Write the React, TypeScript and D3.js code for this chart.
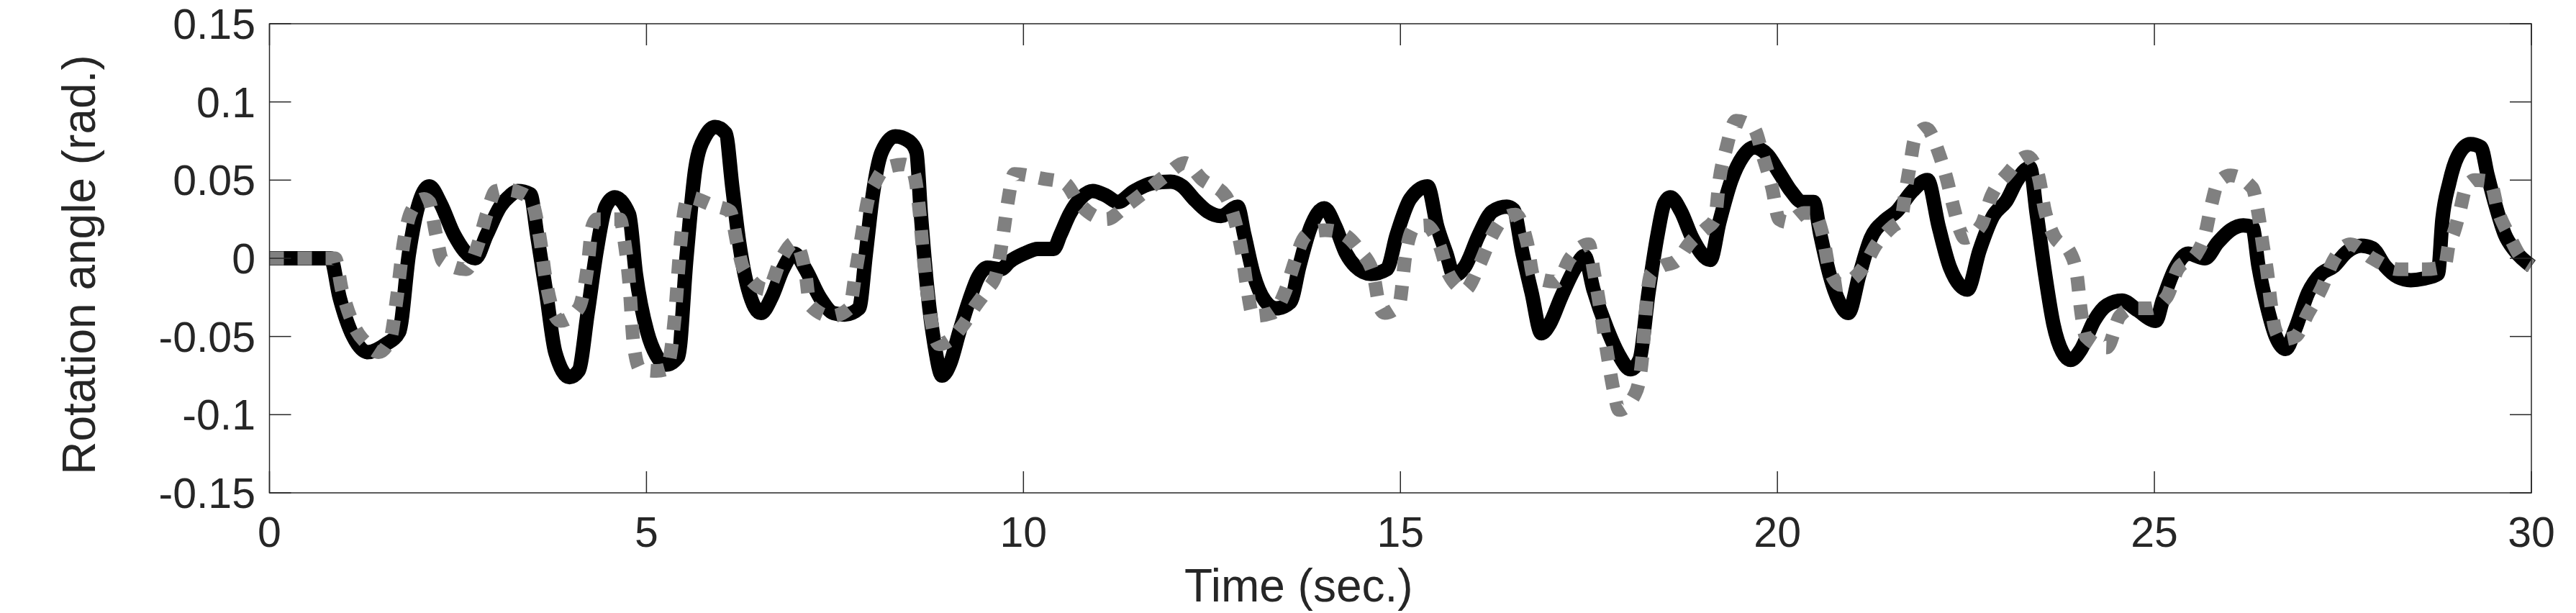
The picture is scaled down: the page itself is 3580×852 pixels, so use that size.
import React from 'react';
import * as d3 from 'd3';

// measured response (solid black)
const blackTime = [
  0, 0.81, 0.93, 1.11, 1.3, 1.54, 1.72, 1.85, 1.97, 2.12, 2.27, 2.45, 2.73, 2.88, 3.06, 3.19, 3.29, 3.46,
  3.55, 3.67, 3.79, 3.98, 4.1, 4.22, 4.34, 4.46, 4.58, 4.77, 4.86, 5.01, 5.13, 5.26, 5.42, 5.53, 5.65,
  5.78, 5.91, 6.05, 6.14, 6.23, 6.35, 6.52, 6.66, 6.81, 6.96, 7.11, 7.3, 7.48, 7.63, 7.82, 7.91, 8.0,
  8.12, 8.3, 8.48, 8.58, 8.64, 8.73, 8.82, 8.92, 9.03, 9.15, 9.28, 9.4, 9.52, 9.7, 9.82, 10.01, 10.19,
  10.4, 10.49, 10.61, 10.77, 10.92, 11.1, 11.25, 11.47, 11.71, 11.95, 12.11, 12.26, 12.44, 12.62, 12.84,
  12.93, 13.05, 13.2, 13.35, 13.54, 13.66, 13.81, 13.99, 14.14, 14.28, 14.4, 14.61, 14.82, 14.95, 15.13,
  15.36, 15.49, 15.61, 15.71, 15.86, 16.04, 16.22, 16.41, 16.5, 16.62, 16.74, 16.87, 16.98, 17.13, 17.32,
  17.44, 17.56, 17.74, 17.9, 18.05, 18.17, 18.29, 18.41, 18.5, 18.58, 18.72, 18.87, 19.11, 19.23, 19.39,
  19.54, 19.69, 19.87, 20.02, 20.18, 20.33, 20.48, 20.57, 20.69, 20.82, 20.94, 21.09, 21.24, 21.42, 21.58,
  21.79, 21.99, 22.14, 22.29, 22.52, 22.68, 22.86, 23.04, 23.18, 23.35, 23.44, 23.55, 23.66, 23.78, 23.89,
  24.03, 24.2, 24.37, 24.57, 24.77, 25.02, 25.11, 25.28, 25.45, 25.67, 25.84, 26.01, 26.18, 26.3, 26.38,
  26.5, 26.61, 26.74, 26.87, 27.04, 27.21, 27.38, 27.55, 27.74, 27.89, 28.06, 28.23, 28.4, 28.57, 28.76,
  28.82, 28.91, 29.02, 29.19, 29.33, 29.42, 29.53, 29.65, 29.78, 30,
];
const blackValue = [
  0, 0, -0.025, -0.05, -0.06, -0.055, -0.047, 0.003, 0.033, 0.046, 0.035, 0.015, 0, 0.015, 0.033, 0.04, 0.043, 0.041,
  0.015, -0.022, -0.06, -0.076, -0.072, -0.035, 0.005, 0.033, 0.039, 0.028, -0.01, -0.047, -0.062, -0.068, -0.063, 0, 0.058,
  0.078, 0.084, 0.08, 0.045, 0.01, -0.02, -0.035, -0.025, -0.007, 0.003, -0.007, -0.025, -0.035, -0.036, -0.032, 0.003, 0.04,
  0.068, 0.078, 0.075, 0.068, 0.028, -0.022, -0.055, -0.075, -0.067, -0.047, -0.027, -0.012, -0.006, -0.007, -0.002, 0.003, 0.006,
  0.006, 0.015, 0.028, 0.039, 0.043, 0.04, 0.036, 0.043, 0.048, 0.049, 0.046, 0.038, 0.03, 0.027, 0.033,
  0.015, -0.01, -0.027, -0.032, -0.028, -0.005, 0.02, 0.032, 0.02, 0.003, -0.005, -0.01, -0.007, 0.015, 0.038,
  0.046, 0.02, 0.003, -0.011, -0.005, 0.015, 0.03, 0.033, 0.031, 0.003, -0.022, -0.048, -0.042, -0.025, -0.006,
  0.0015, -0.02, -0.045, -0.062, -0.071, -0.065, -0.022, 0.015, 0.035, 0.039, 0.03, 0.013, -0.001, 0.023, 0.05,
  0.065, 0.071, 0.066, 0.055, 0.043, 0.036, 0.036, 0.015, -0.01, -0.028, -0.035, -0.01, 0.013, 0.024, 0.03,
  0.043, 0.05, 0.02, -0.006, -0.02, 0.005, 0.027, 0.037, 0.05, 0.058, 0.028, -0.01, -0.042, -0.06, -0.065,
  -0.058, -0.04, -0.03, -0.027, -0.033, -0.04, -0.027, -0.006, 0.003, 0, 0.01, 0.018, 0.021, 0.02, -0.005,
  -0.032, -0.05, -0.058, -0.045, -0.022, -0.01, -0.005, 0.004, 0.008, 0.0065, -0.005, -0.012, -0.014, -0.013, -0.01,
  0.025, 0.048, 0.065, 0.073, 0.071, 0.053, 0.033, 0.015, 0.005, -0.005,
];

// simulated response (dotted grey)
const greyTime = [
  0, 0.87, 0.96, 1.11, 1.3, 1.45, 1.6, 1.69, 1.78, 1.88, 2.05, 2.12, 2.21, 2.3, 2.61, 2.76, 2.88, 3.0, 3.12,
  3.37, 3.49, 3.58, 3.67, 3.79, 3.86, 4.1, 4.22, 4.28, 4.34, 4.65, 4.71, 4.77, 4.83, 4.92, 5.13, 5.26, 5.38,
  5.44, 5.5, 5.56, 5.87, 6.11, 6.2, 6.29, 6.6, 6.79, 6.96, 7.11, 7.17, 7.45, 7.69, 7.78, 7.85, 7.94, 8.03,
  8.18, 8.42, 8.54, 8.61, 8.67, 8.76, 8.88, 9.03, 9.21, 9.37, 9.52, 9.64, 9.73, 9.79, 9.88, 10.25, 10.55,
  10.74, 11.1, 11.35, 11.65, 11.89, 12.14, 12.38, 12.68, 12.81, 12.9, 12.96, 13.05, 13.3, 13.48, 13.6, 13.72,
  13.84, 14.0, 14.22, 14.46, 14.64, 14.73, 14.79, 14.98, 15.07, 15.19, 15.34, 15.52, 15.64, 15.86, 16.04,
  16.22, 16.38, 16.53, 16.68, 16.77, 17.07, 17.25, 17.5, 17.56, 17.65, 17.74, 17.83, 17.9, 18.11, 18.2,
  18.26, 18.32, 18.47, 18.65, 18.84, 19.05, 19.17, 19.23, 19.32, 19.45, 19.69, 19.81, 19.93, 20.02, 20.14,
  20.35, 20.48, 20.6, 20.69, 20.84, 20.95, 21.15, 21.3, 21.52, 21.64, 21.7, 21.76, 21.82, 21.97, 22.15,
  22.25, 22.34, 22.43, 22.48, 22.7, 22.84, 23.05, 23.32, 23.46, 23.55, 23.66, 23.89, 23.97, 24.03, 24.09,
  24.37, 24.54, 24.71, 24.94, 25.16, 25.31, 25.56, 25.67, 25.76, 25.84, 26.01, 26.3, 26.38, 26.44, 26.5,
  26.54, 26.6, 26.69, 26.87, 27.04, 27.21, 27.38, 27.6, 27.89, 28.23, 28.59, 28.85, 28.91, 28.96, 29.05,
  29.13, 29.25, 29.45, 29.56, 29.7, 29.87, 30,
];
const greyValue = [
  0, 0, -0.02, -0.042, -0.055, -0.06, -0.052, -0.025, 0.01, 0.03, 0.038, 0.036, 0.015, -0.002, -0.007, 0.008, 0.028, 0.043, 0.044,
  0.041, 0.035, 0.015, -0.015, -0.037, -0.04, -0.032, -0.005, 0.02, 0.025, 0.025, 0.01, -0.015, -0.055, -0.071, -0.072, -0.071, -0.035,
  0.003, 0.03, 0.039, 0.034, 0.03, 0.01, -0.007, -0.02, 0, 0.01, -0.01, -0.03, -0.037, -0.032, -0.007, 0.013, 0.038, 0.048,
  0.058, 0.06, 0.055, 0.035, 0.003, -0.035, -0.055, -0.052, -0.042, -0.03, -0.02, -0.01, 0.015, 0.035, 0.054, 0.051, 0.048,
  0.035, 0.025, 0.033, 0.044, 0.053, 0.061, 0.05, 0.04, 0.023, 0.003, -0.017, -0.037, -0.035, -0.02, -0.002, 0.013,
  0.017, 0.018, 0.016, 0.005, -0.01, -0.032, -0.035, -0.03, 0.003, 0.02, 0.021, 0.008, -0.01, -0.02, -0.005,
  0.015, 0.026, 0.028, 0.01, -0.012, -0.015, 0, 0.009, -0.007, -0.032, -0.06, -0.085, -0.097, -0.087, -0.067,
  -0.03, -0.01, -0.005, -0.002, 0.01, 0.019, 0.025, 0.05, 0.07, 0.088, 0.083, 0.065, 0.045, 0.025, 0.023,
  0.029, 0.029, 0.015, -0.007, -0.017, -0.015, -0.005, 0.008, 0.02, 0.025, 0.043, 0.06, 0.076, 0.083, 0.066,
  0.05, 0.032, 0.017, 0.013, 0.021, 0.04, 0.054, 0.065, 0.053, 0.03, 0.015, 0.003, -0.01, -0.035, -0.05,
  -0.057, -0.037, -0.032, -0.032, -0.025, -0.007, 0.003, 0.015, 0.035, 0.048, 0.053, 0.045, 0.028, 0.008, -0.01,
  -0.027, -0.045, -0.052, -0.05, -0.035, -0.02, -0.001, 0.009, 0, -0.007, -0.007, -0.005, 0.01, 0.015, 0.03,
  0.045, 0.05, 0.049, 0.03, 0.015, 0, -0.005,
];

const xTicks = [0, 5, 10, 15, 20, 25, 30];
const yTicks = [-0.15, -0.1, -0.05, 0, 0.05, 0.1, 0.15];
const yTickLabels = ['-0.15', '-0.1', '-0.05', '0', '0.05', '0.1', '0.15'];

const W = 3580;
const H = 852;
const left = 374.5;
const right = 3518;
const top = 33;
const bottom = 685;
const axisColor = '#262626';
const font = '"Liberation Sans", Arial, Helvetica, sans-serif';
const tickLen = 30;

export default function App() {
  const x = d3.scaleLinear().domain([0, 30]).range([left, right]);
  const y = d3.scaleLinear().domain([-0.15, 0.15]).range([bottom, top]);

  const line = d3
    .line<[number, number]>()
    .x((d) => x(d[0]))
    .y((d) => y(d[1]))
    .curve(d3.curveMonotoneX);

  const blackPts = blackTime.map((t, i) => [t, blackValue[i]] as [number, number]);
  const greyPts = greyTime.map((t, i) => [t, greyValue[i]] as [number, number]);

  return (
    <svg
      width={W}
      height={H}
      style={{ position: 'absolute', left: 0, top: 0, background: '#fff' }}
      fontFamily={font}
    >
      <rect x={0} y={0} width={W} height={H} fill="#fff" />

      {/* data */}
      <path d={line(blackPts) ?? ''} fill="none" stroke="#000" strokeWidth={20} strokeLinejoin="round" />
      <path
        d={line(greyPts) ?? ''}
        fill="none"
        stroke="#808080"
        strokeWidth={19}
        strokeDasharray="20 19"
        strokeLinejoin="round"
      />

      {/* box */}
      <rect x={left} y={top} width={right - left} height={bottom - top} fill="none" stroke={axisColor} strokeWidth={1.5} />

      {/* x ticks */}
      {xTicks.map((t) => (
        <g key={`x${t}`}>
          <line x1={x(t)} x2={x(t)} y1={bottom} y2={bottom - tickLen} stroke={axisColor} strokeWidth={1.5} />
          <line x1={x(t)} x2={x(t)} y1={top} y2={top + tickLen} stroke={axisColor} strokeWidth={1.5} />
          <text x={x(t)} y={760} textAnchor="middle" fontSize={59} fill={axisColor}>
            {t}
          </text>
        </g>
      ))}

      {/* y ticks */}
      {yTicks.map((v, i) => (
        <g key={`y${i}`}>
          <line x1={left} x2={left + tickLen} y1={y(v)} y2={y(v)} stroke={axisColor} strokeWidth={1.5} />
          <line x1={right} x2={right - tickLen} y1={y(v)} y2={y(v)} stroke={axisColor} strokeWidth={1.5} />
          <text x={355} y={y(v) + 21} textAnchor="end" fontSize={59} fill={axisColor}>
            {yTickLabels[i]}
          </text>
        </g>
      ))}

      {/* axis labels */}
      <text x={x(13.65)} y={836} textAnchor="middle" fontSize={64} fill={axisColor}>
        Time (sec.)
      </text>
      <text
        transform={`translate(132, ${(top + bottom) / 2 + 9}) rotate(-90)`}
        textAnchor="middle"
        fontSize={64}
        fill={axisColor}
      >
        Rotation angle (rad.)
      </text>
    </svg>
  );
}
